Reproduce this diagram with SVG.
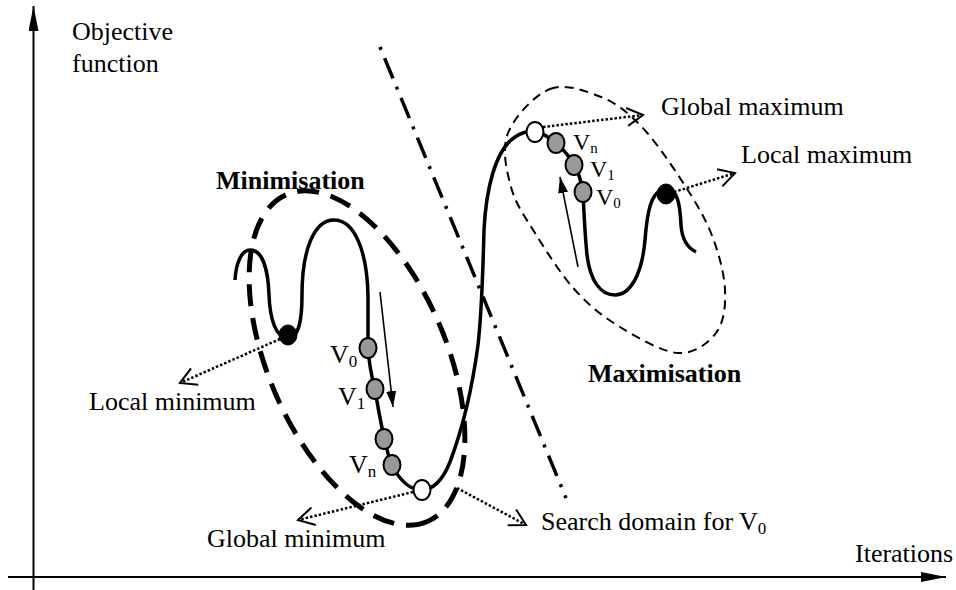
<svg xmlns="http://www.w3.org/2000/svg" width="956" height="590" viewBox="0 0 956 590">
<style>
text{font-family:"Liberation Serif","Times New Roman",serif;font-size:26px;fill:#000}
.b{font-weight:bold}
.sub{font-size:17px}
.vs{font-size:24px}
.vs .sub{font-size:15px}
.axis{stroke:#000;stroke-width:2;fill:none}
.curve{stroke:#000;stroke-width:3.5;fill:none;stroke-linejoin:round}
.dot{stroke:#000;stroke-width:2.5;fill:none;stroke-dasharray:2.5 2}
.thin{stroke:#000;stroke-width:1.6;fill:none}
.gray{fill:#999;stroke:#000;stroke-width:2}
.white{fill:#fff;stroke:#000;stroke-width:2}
.black{fill:#000;stroke:#000;stroke-width:1}
</style>
<defs>
<marker id="axh" viewBox="0 0 25 10" refX="25" refY="5" markerWidth="25" markerHeight="10" markerUnits="userSpaceOnUse" orient="auto"><path d="M0,0 L25,5 L0,10 z" fill="#000"/></marker>
<marker id="sol" viewBox="0 0 16 10" refX="16" refY="5" markerWidth="16" markerHeight="10" markerUnits="userSpaceOnUse" orient="auto"><path d="M0,0 L16,5 L0,10 z" fill="#000"/></marker>
<marker id="open" viewBox="0 0 20 20" refX="18" refY="10" markerWidth="20" markerHeight="20" markerUnits="userSpaceOnUse" orient="auto"><path d="M2,1 L18,10 L2,19" fill="none" stroke="#000" stroke-width="2" stroke-dasharray="none"/></marker>
</defs>

<g id="axes">
<line class="axis" x1="33.5" y1="590" x2="33.5" y2="6" marker-end="url(#axh)"/>
<line class="axis" x1="8" y1="577" x2="946" y2="577" marker-end="url(#axh)"/>
<text x="72" y="40">Objective</text>
<text x="72" y="72">function</text>
<text x="855" y="562">Iterations</text>
</g>

<g id="separator">
<line x1="380" y1="47" x2="566" y2="498" stroke="#000" stroke-width="3.5" stroke-dasharray="3 9 22 9"/>
</g>

<g id="minimisation-region">
<ellipse cx="357" cy="358" rx="178" ry="89" transform="rotate(66.7 357 358)" fill="none" stroke="#000" stroke-width="5" stroke-dasharray="22 12"/>
<text class="b" x="216" y="189">Minimisation</text>
</g>

<g id="maximisation-region">
<path d="M550,89 C565.5,83 586,91 601,97 C616,103 626.8,111.5 640,125 C653.2,138.5 668.2,160 680,178 C691.8,196 703.5,214.3 711,233 C718.5,251.7 724.2,273.3 725,290 C725.8,306.7 723.8,322.5 716,333 C708.2,343.5 694,354 678,353 C662,352 637.2,337.5 620,327 C602.8,316.5 589.2,305.7 575,290 C560.8,274.3 545.7,250.2 535,233 C524.3,215.8 515.5,203.7 511,187 C506.5,170.3 501.5,149.3 508,133 C514.5,116.7 534.5,95 550,89 Z" fill="none" stroke="#000" stroke-width="2" stroke-dasharray="9 6"/>
<text class="b" x="588" y="382">Maximisation</text>
</g>

<g id="objective-curve">
<path class="curve" d="M235,280 C236,262 242,250 250,250 C262,250 268,268 269,295 C270,320 276,338 288,338 C299,338 302,320 302,295 C302,250 314,220 334,220 C355,220 367,252 368,295 L368,348 C369,365 372,378 375,390 C379,412 384,445 392,466 C400,480 410,490 421,490 C432,490 442,482 450,462 C462,430 472,390 478,345 C482,310 483,270 484,230 C486,190 495,150 515,137 C522,132 528,131 535,131 C545,134 550,138 556,143 C564,150 570,157 574,165 C580,175 582,185 583,193 C584,215 585,235 587,255 C590,280 600,295 615,295 C630,295 642,275 645,240 C647,215 650,190 666,189 C678,189 680,205 681,225 C682,240 688,248 696,252"/>
</g>

<g id="min-iterates">
<ellipse class="gray" cx="368" cy="348" rx="8.5" ry="10"/>
<ellipse class="gray" cx="375" cy="389" rx="8.5" ry="10"/>
<ellipse class="gray" cx="384" cy="439" rx="8.5" ry="10"/>
<ellipse class="gray" cx="392" cy="465" rx="8.5" ry="10"/>
<text x="330" y="363">V<tspan class="sub" dy="4">0</tspan></text>
<text x="338" y="405">V<tspan class="sub" dy="4">1</tspan></text>
<text x="349" y="473">V<tspan class="sub" dy="4">n</tspan></text>
</g>

<g id="max-iterates">
<ellipse class="gray" cx="556" cy="143" rx="8.5" ry="10"/>
<ellipse class="gray" cx="574" cy="165" rx="8.5" ry="10"/>
<ellipse class="gray" cx="583" cy="192" rx="8.5" ry="10"/>
<text class="vs" x="573" y="150">V<tspan class="sub" dy="3">n</tspan></text>
<text class="vs" x="590" y="177">V<tspan class="sub" dy="3">1</tspan></text>
<text class="vs" x="596" y="205">V<tspan class="sub" dy="3">0</tspan></text>
</g>

<g id="local-minimum">
<ellipse class="black" cx="288" cy="335" rx="9" ry="10"/>
<text x="89" y="410">Local minimum</text>
</g>
<g id="global-minimum">
<ellipse class="white" cx="422" cy="490" rx="8.5" ry="10"/>
<text x="207" y="547">Global minimum</text>
</g>
<g id="global-maximum">
<ellipse class="white" cx="535" cy="132" rx="8.5" ry="10"/>
<text x="661" y="115">Global maximum</text>
</g>
<g id="local-maximum">
<ellipse class="black" cx="666" cy="194" rx="9" ry="10"/>
<text x="741" y="163">Local maximum</text>
</g>
<g id="search-domain">
<text x="541" y="530">Search domain for V<tspan class="sub" dy="4">0</tspan></text>
</g>

<g id="connectors">
<line class="dot" x1="280" y1="339" x2="180" y2="383" marker-end="url(#open)"/>
<line class="dot" x1="413" y1="492" x2="298" y2="520" marker-end="url(#open)"/>
<line class="dot" x1="457" y1="488" x2="526" y2="525" marker-end="url(#open)"/>
<line class="dot" x1="543" y1="127" x2="643" y2="115" marker-end="url(#open)"/>
<line class="dot" x1="674" y1="192" x2="735" y2="173" marker-end="url(#open)"/>
<line class="thin" x1="380" y1="292" x2="393" y2="407" marker-end="url(#sol)"/>
<line class="thin" x1="578" y1="267" x2="560" y2="177" marker-end="url(#sol)"/>
</g>
</svg>
